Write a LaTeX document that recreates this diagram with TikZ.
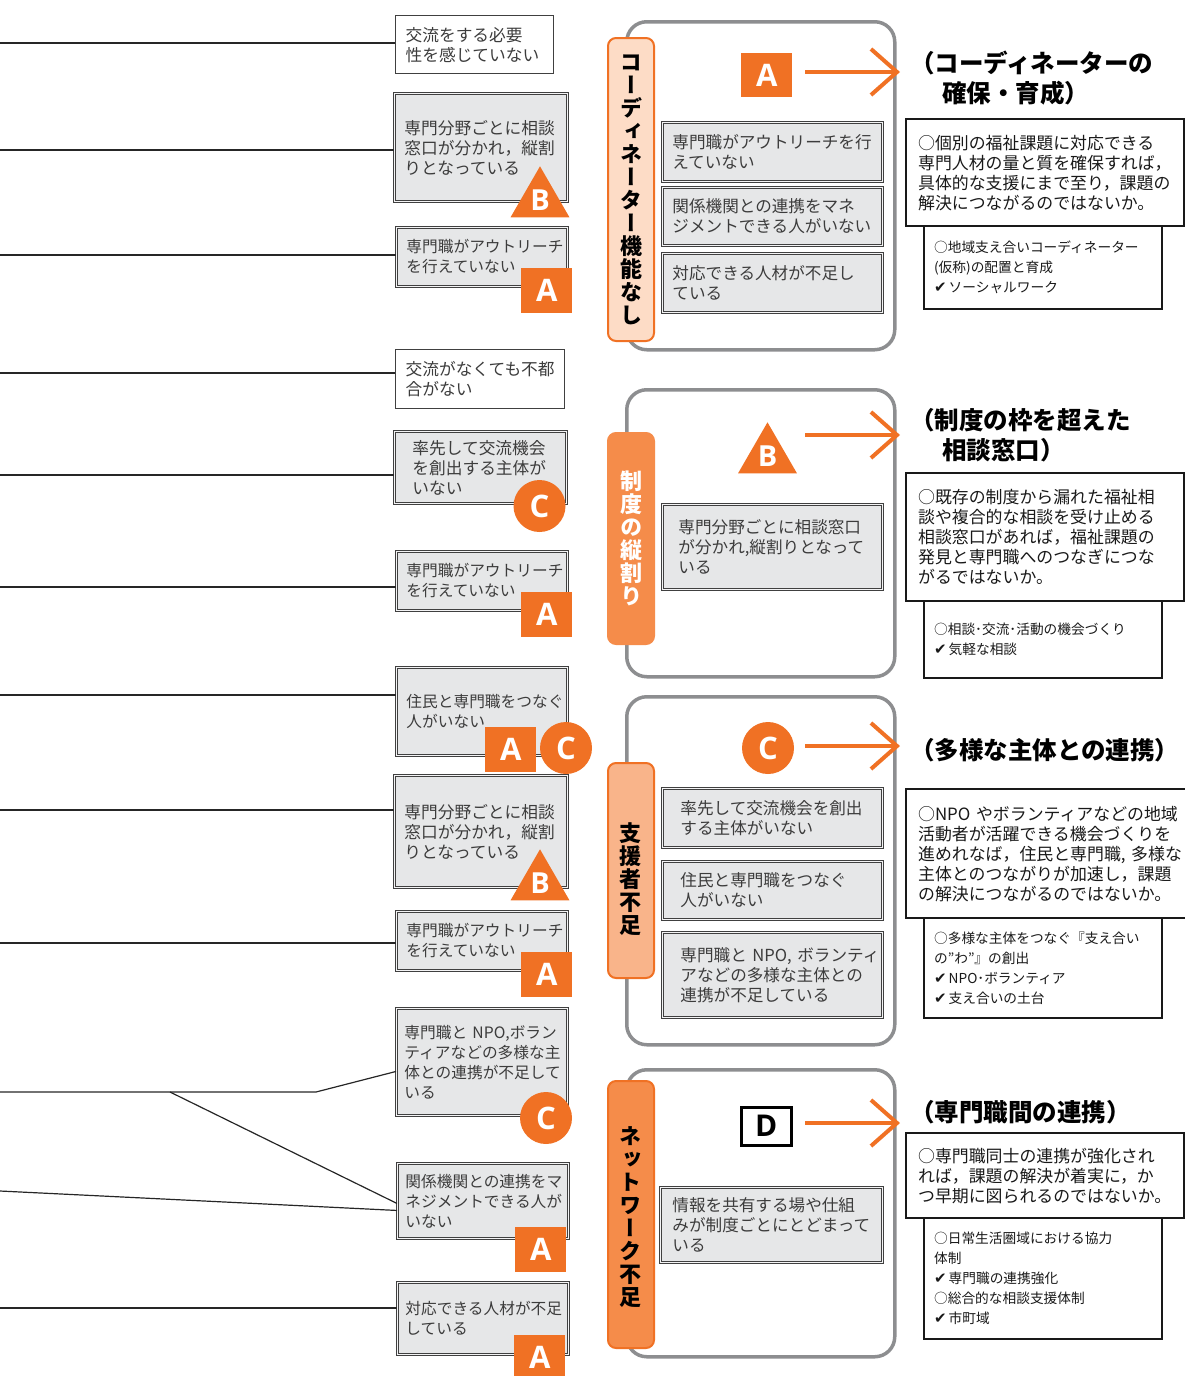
\documentclass[tikz,border=0pt]{standalone}
\usepackage{fontspec}
\setmainfont{Noto Sans CJK JP}
\newfontfamily\vfont{Noto Sans CJK JP}[RawFeature=+vert]
\newfontfamily\djv{DejaVu Sans}
\newfontfamily\bdg{Open Sans}
\usetikzlibrary{arrows.meta,shapes.geometric}
\definecolor{org}{HTML}{F07124}
\definecolor{orgmid}{HTML}{F58C4A}
\definecolor{orglight}{HTML}{F9B48A}
\definecolor{orgpale}{HTML}{FDDCC6}
\definecolor{boxfill}{HTML}{E6E7E8}
\definecolor{panelgray}{HTML}{8D8E90}
\definecolor{txt}{HTML}{3C3C3C}
\newcommand\chk{{\djv\fontsize{15}{20}\selectfont ✔}\hspace{2pt}}
\begin{document}
\begin{tikzpicture}[x=1pt,y=-1pt,
 conn/.style={draw=black!85, line width=1.2pt},
 wbox/.style={draw=black!75, line width=1.3pt, fill=white, anchor=north west, align=left, inner xsep=10pt, inner ysep=0pt, text=txt, font=\fontsize{16.7}{20}\selectfont},
 gbox/.style={draw=black!75, line width=0.9pt, double=white!55!boxfill, double distance=1.3pt, fill=boxfill, anchor=north west, align=left, inner xsep=10pt, inner ysep=0pt, text=txt, font=\fontsize{16.7}{20}\selectfont},
 narrow/.style={font=\fontsize{15.7}{20}\selectfont},
 mbox/.style={gbox, font=\fontsize{16.6}{20}\selectfont},
 rbox/.style={draw=black!90, line width=2.2pt, fill=white, anchor=north west, align=left, inner xsep=12pt, inner ysep=0pt, text=black!90, font=\fontsize{16.9}{20}\selectfont},
 sbox/.style={rbox, inner xsep=10pt, font=\fontsize{13.7}{20}\selectfont},
 panel/.style={draw=panelgray, line width=3.5pt, fill=white, rounded corners=20pt, anchor=north west, inner sep=0pt},
 tag/.style={rounded corners=8pt, line width=2pt, anchor=north west, minimum width=46pt, inner sep=0pt, align=center, font=\vfont\bfseries\fontsize{22}{23}\selectfont},
 vtext/.style={inner sep=0pt, align=center, font=\vfont\bfseries\fontsize{22}{23}\selectfont},
 sq/.style={fill=org, inner sep=0pt, anchor=north west, text=white, font=\bdg\bfseries\fontsize{31}{31}\selectfont},
 circ/.style={circle, fill=org, minimum size=52pt, inner sep=0pt, text=white, font=\bdg\bfseries\fontsize{31}{31}\selectfont},
 tri/.style={regular polygon, regular polygon sides=3, fill=org, minimum size=68pt, inner sep=0pt, text=white, font=\bdg\bfseries\fontsize{29}{29}\selectfont},
 title/.style={anchor=west, inner sep=0pt, font=\bfseries\fontsize{24.5}{30}\selectfont, text=black},
 oarrow/.style={draw=org, line width=4pt, -{Straight Barb[length=26pt,width=46pt]}},
]
\useasboundingbox (0,0) rectangle (1185,1376);

% ---------- left column boxes ----------
\node[wbox, minimum width=158pt, minimum height=58pt, text width=138pt, inner xsep=10pt] (b1) at (395,15) {交流をする必要\\性を感じていない};
\node[gbox, minimum width=173pt, minimum height=108pt, text width=153pt] (b2) at (394,93) {専門分野ごとに相談\\窓口が分かれ，縦割\\りとなっている};
\node[gbox, narrow, minimum width=171pt, minimum height=59pt, text width=151pt] (b3) at (396,227) {専門職がアウトリーチ\\を行えていない};
\node[wbox, minimum width=169pt, minimum height=59pt, text width=149pt] (b4) at (395,349) {交流がなくても不都\\合がない};
\node[gbox, minimum width=172pt, minimum height=72pt, inner xsep=18pt, text width=136pt] (b5) at (394,431) {率先して交流機会\\を創出する主体が\\いない};
\node[gbox, narrow, minimum width=171pt, minimum height=59pt, text width=151pt] (b6) at (396,551) {専門職がアウトリーチ\\を行えていない};
\node[gbox, narrow, minimum width=171pt, minimum height=88pt, text width=151pt] (b7) at (396,667) {住民と専門職をつなぐ\\人がいない};
\node[gbox, minimum width=173pt, minimum height=112pt, text width=153pt] (b8) at (394,775) {専門分野ごとに相談\\窓口が分かれ，縦割\\りとなっている};
\node[gbox, narrow, minimum width=171pt, minimum height=59pt, text width=151pt] (b9) at (396,911) {専門職がアウトリーチ\\を行えていない};
\node[gbox, narrow, minimum width=171pt, minimum height=107pt, inner xsep=8pt, text width=155pt] (b10) at (396,1008) {専門職と~NPO,ボラン\\ティアなどの多様な主\\体との連携が不足して\\いる};
\node[gbox, narrow, minimum width=171pt, minimum height=75pt, inner xsep=8pt, text width=155pt] (b11) at (397,1163) {関係機関との連携をマ\\ネジメントできる人が\\いない};
\node[gbox, narrow, minimum width=171pt, minimum height=72pt, inner xsep=8pt, text width=155pt] (b12) at (397,1282) {対応できる人材が不足\\している};

% ---------- left connectors ----------
\coordinate (o1) at (0,43);
\coordinate (o2) at (0,150);
\coordinate (o3) at (0,255);
\coordinate (o4) at (0,373);
\coordinate (o5) at (0,475);
\coordinate (o6) at (0,587);
\coordinate (o7) at (0,695);
\coordinate (o8) at (0,810);
\coordinate (o9) at (0,943);
\coordinate (o10) at (0,1092);
\coordinate (k10) at (316,1092);
\coordinate (j10) at (170,1092);
\coordinate (o11) at (0,1191);
\coordinate (o12) at (0,1308);
\draw[conn] (o1) -- (o1 -| b1.west);
\draw[conn] (o2) -- (o2 -| b2.west);
\draw[conn] (o3) -- (o3 -| b3.west);
\draw[conn] (o4) -- (o4 -| b4.west);
\draw[conn] (o5) -- (o5 -| b5.west);
\draw[conn] (o6) -- (o6 -| b6.west);
\draw[conn] (o7) -- (o7 -| b7.west);
\draw[conn] (o8) -- (o8 -| b8.west);
\draw[conn] (o9) -- (o9 -| b9.west);
\draw[conn] (o10) -- (k10) -- ([yshift=-9.5pt]b10.west);
\draw[conn] (j10) -- ([yshift=-2.5pt]b11.west);
\draw[conn] (o11) -- ([yshift=-9.5pt]b11.west);
\draw[conn] (o12) -- (o12 -| b12.west);

% ---------- left badges ----------
\node[tri] (lb2) at (540,200.3) {B};
\node[sq, minimum width=51pt, minimum height=45pt] (la3) at (521,268) {A};
\node[circ] (lc5) at (539.5,506) {C};
\node[sq, minimum width=51pt, minimum height=45pt] (la6) at (521,592) {A};
\node[sq, minimum width=51pt, minimum height=45pt] (la7) at (485,727) {A};
\node[circ] (lc7) at (566,748) {C};
\node[tri] (lb8) at (540,883.3) {B};
\node[sq, minimum width=51pt, minimum height=45pt] (la9) at (521,952) {A};
\node[circ] (lc10) at (546,1118) {C};
\node[sq, minimum width=51pt, minimum height=45pt] (la11) at (515,1227) {A};
\node[sq, minimum width=51pt, minimum height=45pt] (la12) at (514,1335) {A};

% ---------- middle panels ----------
\node[panel, minimum width=268pt, minimum height=328pt] (p1) at (625,20) {};
\node[panel, minimum width=268pt, minimum height=287pt] (p2) at (625,388) {};
\node[panel, minimum width=268pt, minimum height=348pt] (p3) at (625,695) {};
\node[panel, minimum width=268pt, minimum height=287pt] (p4) at (625,1068) {};

\node[tag, fill=orgpale, draw=org, minimum height=303pt] (g1) at (607,37) {コ\\ー\\デ\\ィ\\ネ\\ー\\タ\\ー\\機\\能\\な\\し};
\node[tag, fill=orgmid, draw=orgmid, text=white, minimum height=211pt] (g2) at (607,432) {制\\度\\の\\縦\\割\\り};
\node[tag, fill=orglight, draw=org, minimum height=215pt] (g3) at (607,762) {};
\node[vtext] (g3t) at (630,879) {支\\援\\者\\不\\足};
\node[tag, fill=orgmid, draw=org, minimum height=267pt] (g4) at (607,1080) {};
\node[vtext] (g4t) at (630,1217) {ネ\\ッ\\ト\\ワ\\ー\\ク\\不\\足};

\node[mbox, minimum width=220pt, minimum height=59pt, text width=200pt] (m1a) at (662,122) {専門職がアウトリーチを行\\えていない};
\node[mbox, minimum width=220pt, minimum height=58pt, text width=200pt] (m1b) at (662,187) {関係機関との連携をマネ\\ジメントできる人がいない};
\node[mbox, minimum width=220pt, minimum height=59pt, text width=200pt] (m1c) at (662,253) {対応できる人材が不足し\\ている};
\node[mbox, minimum width=220pt, minimum height=85pt, inner xsep=16pt, text width=188pt] (m2a) at (662,504) {専門分野ごとに相談窓口\\が分かれ,縦割りとなって\\いる};
\node[mbox, minimum width=220pt, minimum height=59pt, inner xsep=18pt, text width=184pt] (m3a) at (662,788) {率先して交流機会を創出\\する主体がいない};
\node[mbox, minimum width=220pt, minimum height=58pt, inner xsep=18pt, text width=184pt] (m3b) at (662,861) {住民と専門職をつなぐ\\人がいない};
\node[mbox, minimum width=220pt, minimum height=85pt, inner xsep=18pt, text width=184pt] (m3c) at (662,932) {専門職と~NPO,~ボランティ\\アなどの多様な主体との\\連携が不足している};
\node[mbox, minimum width=222pt, minimum height=75pt, inner xsep=12pt, text width=198pt] (m4a) at (660,1187) {情報を共有する場や仕組\\みが制度ごとにとどまって\\いる};

% middle badges
\node[sq, minimum width=51pt, minimum height=44pt] (ma) at (741,53) {A};
\node[tri] (mb) at (767.5,456.3) {B};
\node[circ] (mc) at (768,748) {C};
\node[draw=black, line width=2.5pt, fill=white, minimum width=50pt, minimum height=38pt, inner sep=0pt, anchor=north west, font=\bdg\bfseries\fontsize{30}{30}\selectfont] (md) at (740,1106) {D};

% arrows
\coordinate (as1) at (805,72);   \coordinate (ae1) at (900,72);
\coordinate (as2) at (805,435);  \coordinate (ae2) at (900,435);
\coordinate (as3) at (805,746);  \coordinate (ae3) at (900,746);
\coordinate (as4) at (805,1123); \coordinate (ae4) at (900,1123);
\draw[oarrow] (as1) -- (ae1);
\draw[oarrow] (as2) -- (ae2);
\draw[oarrow] (as3) -- (ae3);
\draw[oarrow] (as4) -- (ae4);

% ---------- right column ----------
\node[title] (t1a) at (910,63) {（コーディネーターの};
\node[title] (t1b) at (942,93) {確保・育成）};
\node[title] (t2a) at (910,420) {（制度の枠を超えた};
\node[title] (t2b) at (942,450) {相談窓口）};
\node[title] (t3) at (910,750) {（多様な主体との連携）};
\node[title] (t4) at (910,1112) {（専門職間の連携）};

\node[sbox, minimum width=238pt, minimum height=83pt, text width=218pt] (s1) at (923,225) {○地域支え合いコーディネーター\\(仮称)の配置と育成\\\chk ソーシャルワーク};
\node[rbox, minimum width=278pt, minimum height=107pt, text width=254pt] (r1) at (905,118) {○個別の福祉課題に対応できる\\専門人材の量と質を確保すれば，\\具体的な支援にまで至り，課題の\\解決につながるのではないか。};

\node[sbox, minimum width=238pt, minimum height=77pt, text width=218pt] (s2) at (923,600) {○相談･交流･活動の機会づくり\\\chk 気軽な相談};
\node[rbox, minimum width=278pt, minimum height=128pt, text width=254pt] (r2) at (905,472) {○既存の制度から漏れた福祉相\\談や複合的な相談を受け止める\\相談窓口があれば，福祉課題の\\発見と専門職へのつなぎにつな\\がるではないか。};

\node[sbox, minimum width=238pt, minimum height=100pt, text width=218pt] (s3) at (923,917) {○多様な主体をつなぐ『支え合い\\の"わ"』の創出\\\chk NPO･ボランティア\\\chk 支え合いの土台};
\node[rbox, minimum width=285pt, minimum height=129pt, text width=261pt] (r3) at (905,788) {○NPO~やボランティアなどの地域\\活動者が活躍できる機会づくりを\\進めれなば，住民と専門職,~多様な\\主体とのつながりが加速し，課題\\の解決につながるのではないか。};

\node[sbox, minimum width=238pt, minimum height=121pt, text width=218pt] (s4) at (923,1217) {○日常生活圏域における協力\\体制\\\chk 専門職の連携強化\\○総合的な相談支援体制\\\chk 市町域};
\node[rbox, minimum width=278pt, minimum height=85pt, text width=254pt] (r4) at (905,1132) {○専門職同士の連携が強化され\\れば，課題の解決が着実に，か\\つ早期に図られるのではないか。};
\end{tikzpicture}
\end{document}
